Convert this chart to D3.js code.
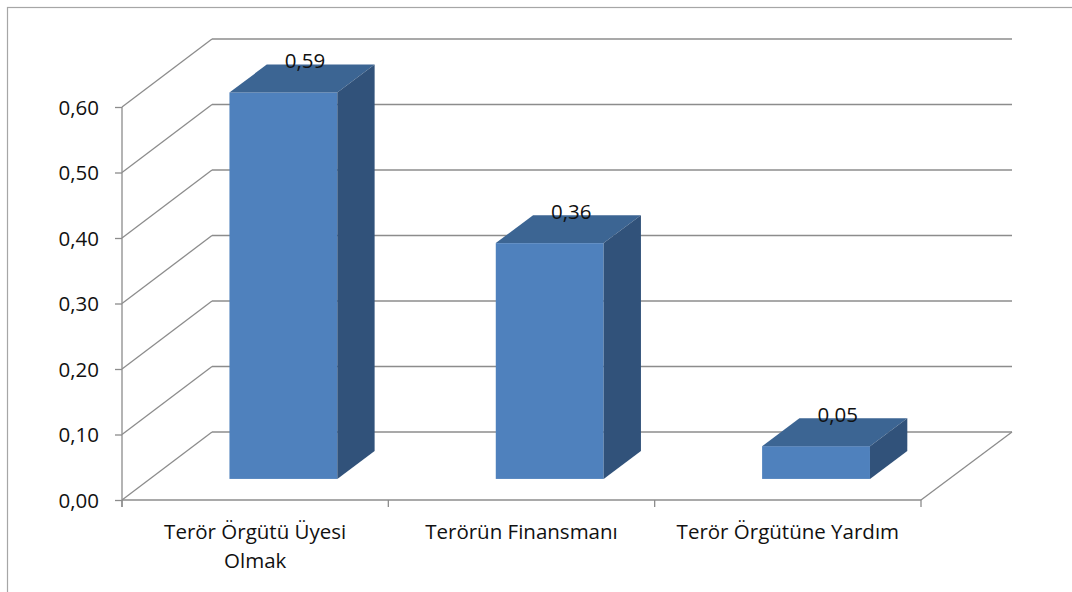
<!DOCTYPE html>
<html><head><meta charset="utf-8">
<script src="https://cdn.jsdelivr.net/npm/d3@7"></script>
<style>
html,body{margin:0;padding:0;background:#fff;}
svg{display:block;font-family:"Open Sans","Noto Sans",sans-serif;}
</style></head>
<body><svg id="c" width="1072" height="592"></svg>
<script>
const categories = [["Terör Örgütü Üyesi","Olmak"],["Terörün Finansmanı"],["Terör Örgütüne Yardım"]];
const values = [0.59, 0.36, 0.05];
const valueLabels = ["0,59","0,36","0,05"];
const ticks = [0,0.1,0.2,0.3,0.4,0.5,0.6];

const FONT = "'Open Sans'";
const FS = 20.5;
const svg = d3.select("#c");
const W = 1072, H = 592;
svg.append("rect").attr("x",7.5).attr("y",7.5).attr("width",W).attr("height",H)
  .attr("fill","none").attr("stroke","#a6a6a6").attr("stroke-width",1.2);

const y = d3.scaleLinear().domain([0,0.6]).range([500,107]);
const x = d3.scaleBand().domain(d3.range(categories.length)).range([122,921]).padding(0);
const DX = 91, DY = -68;
const f1 = 0.31, f2 = 0.72;
const grid = "#8c8c8c";

const g = svg.append("g");
ticks.forEach(t=>{
  const yy = y(t);
  g.append("line").attr("x1",122).attr("y1",yy).attr("x2",122+DX-1).attr("y2",yy+DY)
    .attr("stroke",grid).attr("stroke-width",1.3);
  g.append("line").attr("x1",122+DX-1).attr("y1",yy+DY).attr("x2",921+DX).attr("y2",yy+DY)
    .attr("stroke",grid).attr("stroke-width",1.5);
});
g.append("line").attr("x1",921).attr("y1",y(0)).attr("x2",921+DX).attr("y2",y(0)+DY)
  .attr("stroke",grid).attr("stroke-width",1.3);

const fmt = d3.format(".2f");
values.forEach((v,i)=>{
  const bw = x.bandwidth()*0.405;
  const cx = x(i)+x.bandwidth()/2 + DX*f1;
  const x0 = cx - bw/2, x1 = cx + bw/2;
  const yb = y(0) + DY*f1, yt = y(v) + DY*f1;
  const ddx = DX*(f2-f1), ddy = DY*(f2-f1);
  g.append("rect").attr("x",x0).attr("y",yt).attr("width",bw).attr("height",yb-yt).attr("fill","#4F81BD");
  g.append("path").attr("d",`M${x0},${yt}L${x0+ddx},${yt+ddy}L${x1+ddx},${yt+ddy}L${x1},${yt}Z`).attr("fill","#3C6593");
  g.append("path").attr("d",`M${x1},${yt}L${x1+ddx},${yt+ddy}L${x1+ddx},${yb+ddy}L${x1},${yb}Z`).attr("fill","#31527A");
  g.append("text").attr("x",cx+ddx*0.58).attr("y",yt-24).attr("text-anchor","middle")
    .attr("font-size",FS).attr("fill","#111").text(valueLabels[i]);
});

const ya = svg.append("g").attr("transform","translate(122,0)")
  .call(d3.axisLeft(y).tickValues(ticks).tickSize(7).tickPadding(16).tickFormat(d=>fmt(d).replace(".",",")));
ya.select(".domain").attr("stroke",grid).attr("stroke-width",1.3).attr("d","M0,107V507");
ya.selectAll(".tick line").attr("stroke",grid).attr("stroke-width",1.3);
ya.selectAll("text").attr("font-size",FS).attr("fill","#111").attr("font-family",FONT).attr("dy","0.36em");

const xa = svg.append("g").attr("transform","translate(0,500)");
xa.append("line").attr("x1",122).attr("x2",921).attr("stroke",grid).attr("stroke-width",1.5);
d3.range(categories.length+1).forEach(i=>{
  const xx = i<categories.length ? x(i) : x.range()[1];
  xa.append("line").attr("x1",xx).attr("x2",xx).attr("y1",0).attr("y2",7).attr("stroke",grid).attr("stroke-width",1.3);
});
categories.forEach((lines,i)=>{
  const t = xa.append("text").attr("text-anchor","middle").attr("font-size",FS).attr("fill","#111");
  lines.forEach((l,j)=>t.append("tspan").attr("x",x(i)+x.bandwidth()/2).attr("y",39+j*29).text(l));
});
</script></body></html>
